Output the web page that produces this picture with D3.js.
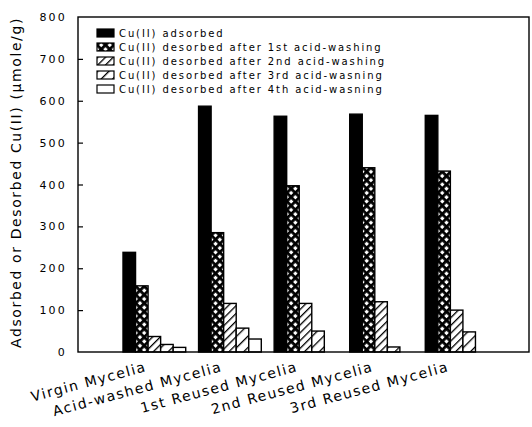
<!DOCTYPE html>
<html>
<head>
<meta charset="utf-8">
<script src="https://cdn.jsdelivr.net/npm/d3@7"></script>
<style>
  html, body { margin: 0; padding: 0; background: #fff; }
  svg { display: block; }
  text { font-family: "DejaVu Sans", sans-serif; fill: #000; }
</style>
</head>
<body>
<svg id="chart" width="532" height="427"></svg>
<script>
// Samples and amounts of Cu(II) (µmole/g)
const categories = ["Virgin Mycelia", "Acid-washed Mycelia", "1st Reused Mycelia", "2nd Reused Mycelia", "3rd Reused Mycelia"];
const seriesNames = [
  "Cu(II) adsorbed",
  "Cu(II) desorbed after 1st acid-washing",
  "Cu(II) desorbed after 2nd acid-washing",
  "Cu(II) desorbed after 3rd acid-wasning",
  "Cu(II) desorbed after 4th acid-wasning"
];
const adsorbed   = [238, 587, 563, 568, 565];
const desorbed1  = [158, 285, 397, 440, 432];
const desorbed2  = [37, 116, 116, 120, 100];
const desorbed3  = [18, 57, 50, 12, 48];
const desorbed4  = [11, 31, 0, 0, 0];
const yTicks = [0, 100, 200, 300, 400, 500, 600, 700, 800];

const seriesValues = [adsorbed, desorbed1, desorbed2, desorbed3, desorbed4];
const fills = ["#000", "url(#cross)", "url(#hatchDense)", "url(#hatchSparse)", "#fff"];

const svg = d3.select("#chart");
const plotLeft = 78, plotRight = 529, plotTop = 17, plotBottom = 352;

const y = d3.scaleLinear().domain([0, 800]).range([plotBottom, plotTop]);
const x0 = d3.scaleBand().domain(categories).range([123, 488]).paddingInner(0.17).paddingOuter(0);
const x1 = d3.scaleBand().domain(d3.range(seriesNames.length)).range([0, x0.bandwidth()]).padding(0);

// Fill patterns
const defs = svg.append("defs");
const cross = defs.append("pattern").attr("id", "cross")
  .attr("patternUnits", "userSpaceOnUse").attr("width", 6).attr("height", 6)
  .attr("patternTransform", "rotate(45)");
cross.append("rect").attr("width", 6).attr("height", 6).attr("fill", "#fff");
cross.append("rect").attr("x", 0).attr("y", 0).attr("width", 2.8).attr("height", 6).attr("fill", "#000");
cross.append("rect").attr("x", 0).attr("y", 0).attr("width", 6).attr("height", 2.8).attr("fill", "#000");

function hatch(id, gap) {
  const p = defs.append("pattern").attr("id", id)
    .attr("patternUnits", "userSpaceOnUse").attr("width", gap).attr("height", gap)
    .attr("patternTransform", "rotate(45)");
  p.append("rect").attr("width", gap).attr("height", gap).attr("fill", "#fff");
  p.append("rect").attr("x", 0).attr("y", 0).attr("width", 1.3).attr("height", gap).attr("fill", "#000");
}
hatch("hatchDense", 5.5);
hatch("hatchSparse", 8);

// Bars
const rows = categories.map((c, i) => ({ cat: c, vals: seriesValues.map(s => s[i]) }));
const groups = svg.append("g").selectAll("g").data(rows).join("g")
  .attr("transform", d => `translate(${x0(d.cat)},0)`);
groups.selectAll("rect")
  .data(d => d.vals.map((v, k) => ({ k, v })).filter(e => e.v > 0))
  .join("rect")
  .attr("x", e => x1(e.k))
  .attr("y", e => y(e.v))
  .attr("width", x1.bandwidth())
  .attr("height", e => y(0) - y(e.v))
  .attr("fill", e => fills[e.k])
  .attr("stroke", "#000")
  .attr("stroke-width", 1.4);

// Frame
svg.append("rect")
  .attr("x", plotLeft).attr("y", plotTop)
  .attr("width", plotRight - plotLeft).attr("height", plotBottom - plotTop)
  .attr("fill", "none").attr("stroke", "#000").attr("stroke-width", 1.4);

// Y axis with inward ticks
const yAxis = d3.axisLeft(y).tickValues(yTicks).tickSize(-5).tickPadding(11);
const ya = svg.append("g").attr("transform", `translate(${plotLeft},0)`).call(yAxis);
ya.select(".domain").remove();
ya.selectAll(".tick line").attr("stroke", "#000").attr("stroke-width", 1.2)
  .filter(d => d === 0 || d === 800).remove();
ya.selectAll(".tick text")
  .style("font-family", "'DejaVu Sans', sans-serif")
  .style("font-size", "11px").style("letter-spacing", "2.2px");

// Y axis title
svg.append("text")
  .attr("transform", `translate(21,${(plotTop + plotBottom) / 2 - 2}) rotate(-90)`)
  .attr("text-anchor", "middle")
  .style("font-size", "14px").style("letter-spacing", "1.6px")
  .text("Adsorbed or Desorbed Cu(II) (\u03bcmole/g)");

// Category labels
svg.append("g").selectAll("text").data(categories).join("text")
  .attr("transform", d => `translate(${x0(d) + x0.bandwidth() / 2 - 7},371) rotate(-15)`)
  .attr("text-anchor", "end")
  .style("font-size", "14px").style("letter-spacing", "1.5px")
  .text(d => d);

// Legend
const legend = svg.append("g").selectAll("g").data(seriesNames).join("g")
  .attr("transform", (d, i) => `translate(97,${29 + i * 14})`);
legend.append("rect")
  .attr("width", 17).attr("height", 8)
  .attr("fill", (d, i) => fills[i])
  .attr("stroke", "#000").attr("stroke-width", 1.2);
legend.append("text")
  .attr("x", 22).attr("y", 8)
  .style("font-size", "10px").style("letter-spacing", "1.9px")
  .text(d => d);
</script>
</body>
</html>
